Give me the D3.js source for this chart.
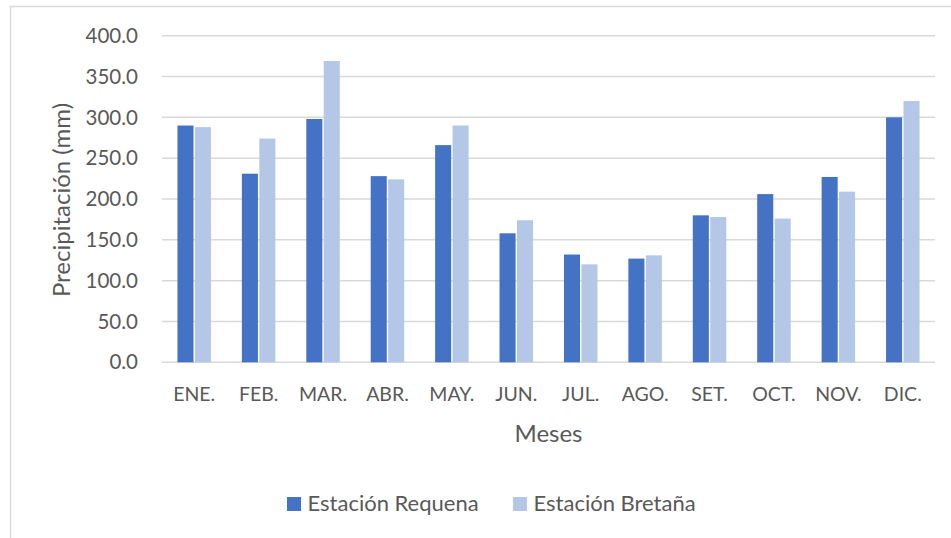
<!DOCTYPE html>
<html>
<head>
<meta charset="utf-8">
<script src="https://cdn.jsdelivr.net/npm/d3@7.9.0/dist/d3.min.js"></script>
<style>
  body { margin: 0; background: #fff; }
  text { font-family: Lato, "Open Sans", sans-serif; fill: #595959; }
</style>
</head>
<body>
<svg id="chart" width="951" height="538"></svg>
<script>
const months = ["ENE.", "FEB.", "MAR.", "ABR.", "MAY.", "JUN.", "JUL.", "AGO.", "SET.", "OCT.", "NOV.", "DIC."];
const requena = [290, 231, 298, 228, 266, 158, 132, 127, 180, 206, 227, 300];
const bretana = [288, 274, 369, 224, 290, 174, 120, 131, 178, 176, 209, 320];
const seriesNames = ["Estación Requena", "Estación Bretaña"];
const yTicks = [0, 50, 100, 150, 200, 250, 300, 350, 400];

const colors = ["#4472C4", "#B4C7E7"];

const svg = d3.select("#chart");

// outer chart border
svg.append("rect")
  .attr("x", 10.5)
  .attr("y", 6.5)
  .attr("width", 960)
  .attr("height", 560)
  .attr("fill", "none")
  .attr("stroke", "#D9D9D9")
  .attr("stroke-width", 1.5);

const x0 = d3.scaleBand()
  .domain(months)
  .range([162, 935])
  .paddingInner(0.48)
  .paddingOuter(0.24);

const x1 = d3.scaleBand()
  .domain([0, 1])
  .range([0, x0.bandwidth()])
  .paddingInner(0.08);

const y = d3.scaleLinear().domain([0, 400]).range([362.3, 35.7]);

// gridlines
svg.append("g")
  .selectAll("line")
  .data(yTicks)
  .join("line")
  .attr("x1", 162)
  .attr("x2", 935)
  .attr("y1", d => y(d))
  .attr("y2", d => y(d))
  .attr("stroke", "#D9D9D9")
  .attr("stroke-width", 1.5);

// y tick labels
svg.append("g")
  .selectAll("text")
  .data(yTicks)
  .join("text")
  .attr("x", 138)
  .attr("y", d => y(d))
  .attr("dy", "0.35em")
  .attr("text-anchor", "end")
  .attr("font-size", 20.5)
  .text(d => d.toFixed(1));

// bars
const rows = months.map((m, i) => ({ month: m, values: [requena[i], bretana[i]] }));

svg.append("g")
  .selectAll("g")
  .data(rows)
  .join("g")
  .attr("transform", d => `translate(${x0(d.month)},0)`)
  .selectAll("rect")
  .data(d => d.values.map((v, k) => ({ k, v })))
  .join("rect")
  .attr("x", d => x1(d.k))
  .attr("y", d => y(d.v))
  .attr("width", x1.bandwidth())
  .attr("height", d => y(0) - y(d.v))
  .attr("fill", d => colors[d.k]);

// month labels
svg.append("g")
  .selectAll("text")
  .data(months)
  .join("text")
  .attr("x", d => x0(d) + x0.bandwidth() / 2)
  .attr("y", 401)
  .attr("text-anchor", "middle")
  .attr("font-size", 19.5)
  .text(d => d);

// axis titles
svg.append("text")
  .attr("x", 548.5)
  .attr("y", 442)
  .attr("text-anchor", "middle")
  .attr("font-size", 24)
  .text("Meses");

svg.append("text")
  .attr("transform", "rotate(-90)")
  .attr("x", -200)
  .attr("y", 70)
  .attr("text-anchor", "middle")
  .attr("font-size", 24)
  .text("Precipitación (mm)");

// legend
const legendX = [287, 513];
const legend = svg.append("g")
  .selectAll("g")
  .data(seriesNames)
  .join("g")
  .attr("transform", (d, i) => `translate(${legendX[i]},497)`);

legend.append("rect")
  .attr("width", 14)
  .attr("height", 14)
  .attr("fill", (d, i) => colors[i]);

legend.append("text")
  .attr("x", 20.5)
  .attr("y", 14)
  .attr("font-size", 22)
  .text(d => d);
</script>
</body>
</html>
